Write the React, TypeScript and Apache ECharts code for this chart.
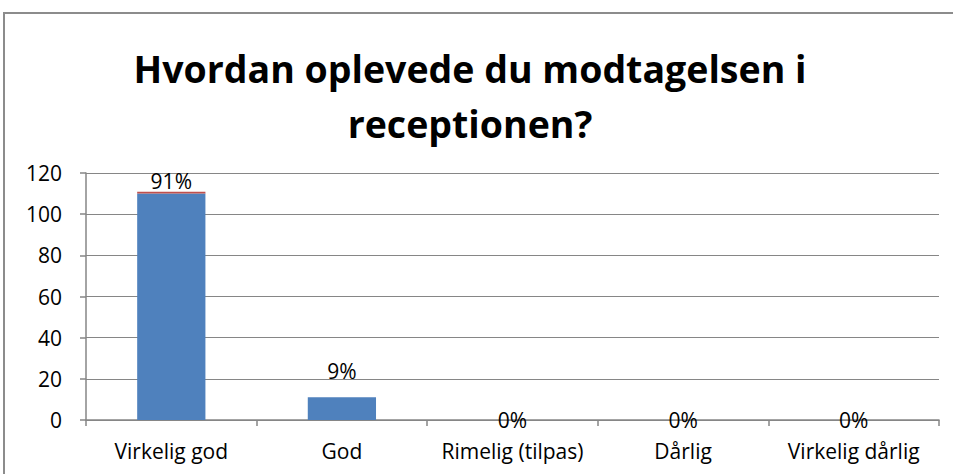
import React, { useEffect, useRef } from "react";
import * as echarts from "echarts";

const titleText = "Hvordan oplevede du modtagelsen i\nreceptionen?";
const categories = ["Virkelig god", "God", "Rimelig (tilpas)", "Dårlig", "Virkelig dårlig"];
const counts = [110, 11, 0, 0, 0];
const shares = [0.91, 0.09, 0, 0, 0];
const yTicks = { min: 0, max: 120, interval: 20 };

const FONT = "'Open Sans', 'Liberation Sans', sans-serif";

export default function App() {
  const ref = useRef<HTMLDivElement>(null);
  useEffect(() => {
    if (!ref.current) return;
    const chart = echarts.init(ref.current, undefined, { renderer: "svg" });
    const labelFor = (i: number, v: number) => {
      if (v === 0) return { show: true, position: "inside" as const };
      if (i === 1) return { show: true, position: "top" as const, distance: 16 };
      return { show: true, position: "top" as const, distance: 0 };
    };
    chart.setOption({
      animation: false,
      textStyle: { fontFamily: FONT },
      title: {
        text: titleText,
        left: 465,
        textAlign: "center",
        top: 36,
        textStyle: {
          fontFamily: FONT,
          fontWeight: "bold",
          fontSize: 37.5,
          lineHeight: 55,
          color: "#000",
        },
      },
      graphic: [
        {
          type: "rect",
          shape: { x: 4, y: 13, width: 1200, height: 1000 },
          style: { fill: "none", stroke: "#8c8c8c", lineWidth: 2 },
          silent: true,
        },
      ],
      grid: { left: 86, right: 14, top: 173, bottom: 54 },
      xAxis: {
        type: "category",
        data: categories,
        axisLine: { show: true, lineStyle: { color: "#868686", width: 1.5 } },
        axisTick: { show: true, length: 6, lineStyle: { color: "#868686", width: 1.5 } },
        axisLabel: { color: "#000", fontSize: 21, margin: 20, interval: 0, fontFamily: FONT },
      },
      yAxis: {
        type: "value",
        min: yTicks.min,
        max: yTicks.max,
        interval: yTicks.interval,
        axisLine: { show: true, lineStyle: { color: "#868686", width: 1.5 } },
        axisTick: { show: true, length: 6, lineStyle: { color: "#868686", width: 1.5 } },
        axisLabel: { color: "#000", fontSize: 21, margin: 24, fontFamily: FONT },
        splitLine: { show: true, lineStyle: { color: "#868686", width: 1 } },
      },
      series: [
        {
          type: "bar",
          stack: "s",
          barWidth: "40%",
          data: counts,
          itemStyle: { color: "#4F81BD" },
        },
        {
          type: "bar",
          stack: "s",
          barWidth: "40%",
          data: shares.map((v, i) => ({ value: v, label: labelFor(i, v) })),
          itemStyle: { color: "#C0504D" },
          label: {
            show: true,
            color: "#000",
            fontSize: 21,
            fontFamily: FONT,
            formatter: (p: any) => `${Math.round(p.value * 100)}%`,
          },
        },
      ],
    });
    return () => chart.dispose();
  }, []);
  return (
    <div
      ref={ref}
      style={{ position: "fixed", left: 0, top: 0, width: 953, height: 474, background: "#fff" }}
    />
  );
}
